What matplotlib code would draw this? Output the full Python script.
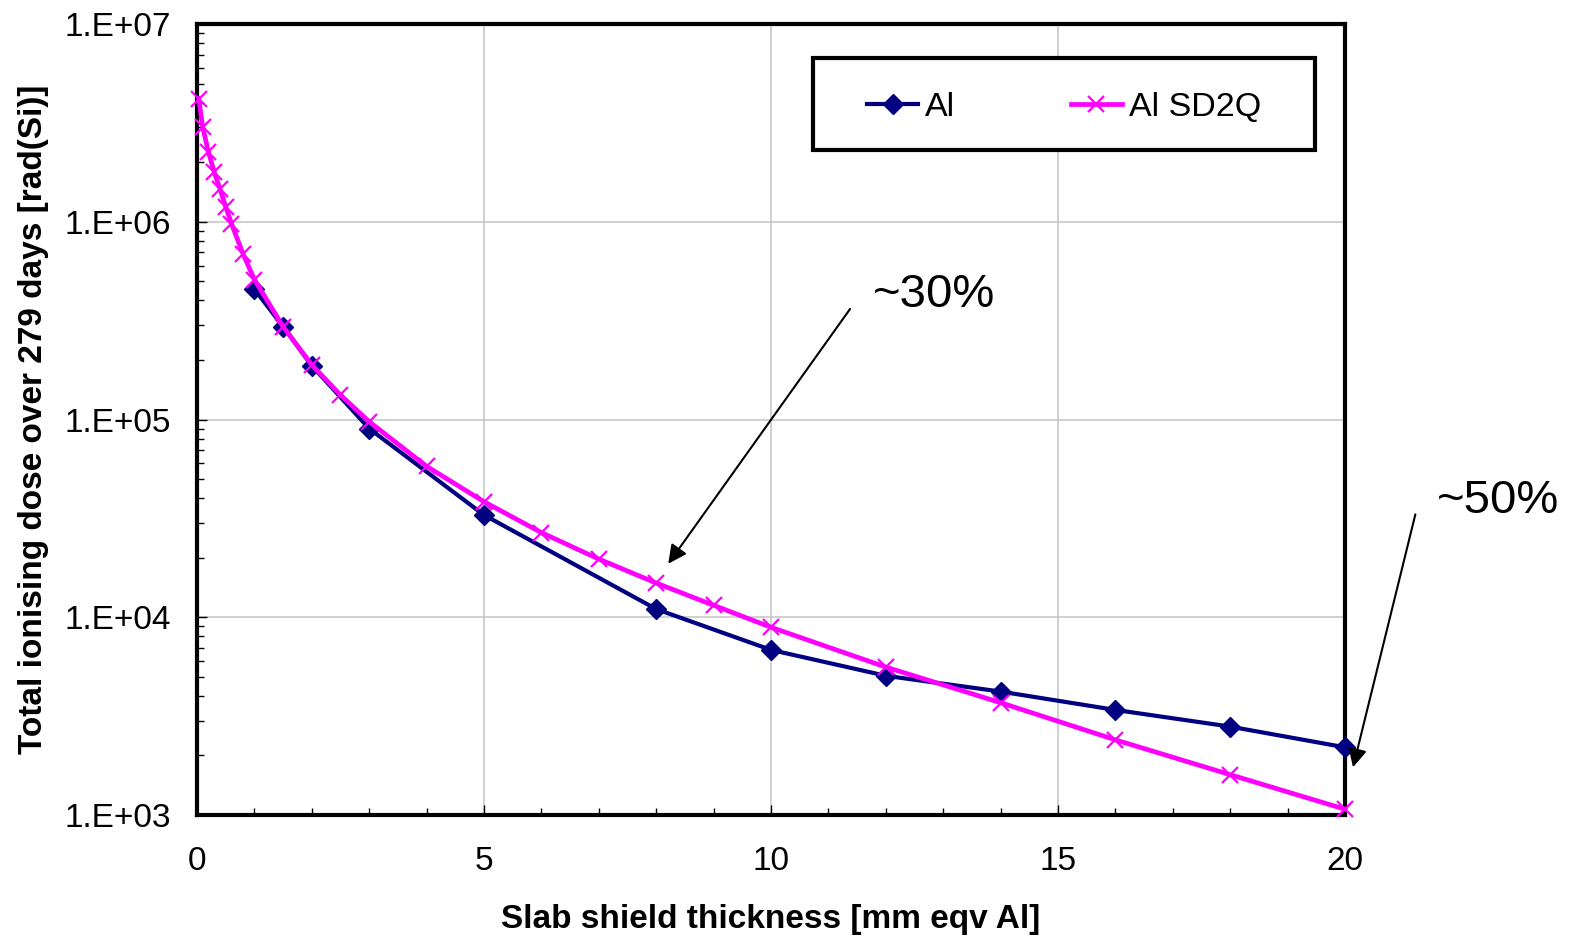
import numpy as np
import matplotlib
matplotlib.use("Agg")
import matplotlib.pyplot as plt
from matplotlib.ticker import MultipleLocator, LogLocator, FuncFormatter, NullFormatter
from matplotlib.patches import Rectangle

plt.rcParams['font.family'] = ['Liberation Sans', 'DejaVu Sans']

# data
al_x = [1, 1.5, 2, 3, 5, 8, 10, 12, 14, 16, 18, 20]
al_y = [4.56e5, 2.95e5, 1.87e5, 9.0e4, 3.29e4, 1.10e4, 6.84e3, 5.06e3,
        4.21e3, 3.40e3, 2.80e3, 2.20e3]

sd2q_x = [0.03, 0.1, 0.2, 0.3, 0.4, 0.5, 0.6, 0.8, 1.0, 1.5, 2, 2.5, 3,
          4, 5, 6, 7, 8, 9, 10, 12, 14, 16, 18, 20]
sd2q_y = [4.2e6, 3.0e6, 2.25e6, 1.78e6, 1.47e6, 1.19e6, 9.8e5, 6.9e5, 5.1e5,
          2.95e5, 1.89e5, 1.33e5, 9.75e4, 5.8e4, 3.84e4, 2.68e4, 1.97e4,
          1.49e4, 1.15e4, 8.9e3, 5.6e3, 3.7e3, 2.4e3, 1.6e3, 1.07e3]

series_names = ["Al", "Al SD2Q"]

fig = plt.figure(figsize=(15.76, 9.38), dpi=100)
ax = fig.add_axes([0.125, 0.1311, 0.7284, 0.8433])

ax.plot(al_x, al_y, color="#000080", lw=3, marker="D", ms=10,
        label=series_names[0], clip_on=False, zorder=3)
ax.plot(sd2q_x, sd2q_y, color="#FF00FF", lw=3.4, marker="x", ms=12, mew=1.6,
        label=series_names[1], clip_on=False, zorder=3)

ax.set_yscale("log")
ax.set_xlim(0, 20)
ax.set_ylim(1e3, 1e7)

ax.xaxis.set_major_locator(MultipleLocator(5))
ax.xaxis.set_minor_locator(MultipleLocator(1))
ax.yaxis.set_major_locator(LogLocator(base=10))
ax.yaxis.set_minor_locator(LogLocator(base=10, subs=np.arange(2, 10)))
ax.yaxis.set_minor_formatter(NullFormatter())
ax.yaxis.set_major_formatter(FuncFormatter(lambda v, p: "1.E+%02d" % int(round(np.log10(v)))))

ax.tick_params(which="both", direction="in", width=1, labelsize=24)
ax.tick_params(which="major", length=7)
ax.tick_params(which="minor", length=5)
ax.tick_params(axis="x", pad=22)
ax.tick_params(axis="y", pad=19)

ax.grid(True, which="major", color="#C8C8C8", lw=1.2)
ax.set_axisbelow(True)
for s in ax.spines.values():
    s.set_linewidth(3)

ax.set_xlabel("Slab shield thickness [mm eqv Al]", fontsize=24, fontweight="bold")
ax.set_ylabel("Total ionising dose over 279 days [rad(Si)]", fontsize=24, fontweight="bold")
ax.xaxis.set_label_coords(0.5, -0.113)
ax.yaxis.set_label_coords(-0.129, 0.5)

# legend box
ax.add_patch(Rectangle((0.5366, 0.8407), 0.4373, 0.1163, transform=ax.transAxes,
                       facecolor="white", edgecolor="black", lw=3, zorder=4))
ax.legend(loc="center", bbox_to_anchor=(0.7552, 0.895), ncol=2, frameon=False,
          fontsize=24.5, handlelength=1.5, handletextpad=0.2, columnspacing=3.4)

arrow = dict(arrowstyle="-|>", mutation_scale=28, lw=1.5, color="black")
fig.text(0.5539, 0.6727, "~30%", fontsize=34, va="baseline", ha="left")
ax.annotate("", xy=(0.4230, 0.3966), xytext=(0.5404, 0.6730),
            xycoords="figure fraction", textcoords="figure fraction", arrowprops=arrow)
fig.text(0.9118, 0.4531, "~50%", fontsize=34, va="baseline", ha="left")
ax.annotate("", xy=(0.8581, 0.1791), xytext=(0.8985, 0.4545),
            xycoords="figure fraction", textcoords="figure fraction", arrowprops=arrow,
            annotation_clip=False)

fig.savefig("out.png", dpi=100)
